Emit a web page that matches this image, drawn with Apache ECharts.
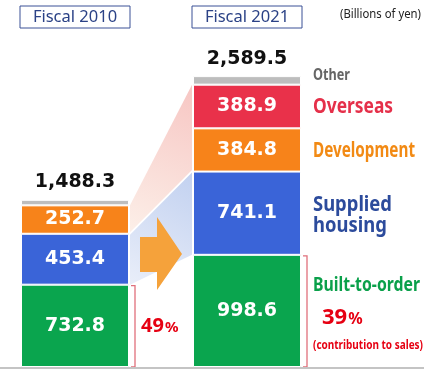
<!DOCTYPE html>
<html><head><meta charset="utf-8">
<script src="https://cdn.jsdelivr.net/npm/echarts@6/dist/echarts.min.js"></script>
<style>html,body{margin:0;padding:0;background:#fff}#c{width:424px;height:392px}</style>
</head><body><div id="c"></div>
<script>
const categories = ['Fiscal 2010', 'Fiscal 2021'];
const builtToOrder = [732.8, 998.6];
const suppliedHousing = [453.4, 741.1];
const development = [252.7, 384.8];
const overseas = ['-', 388.9];
const other = [49.4, 76.1];
const totals = [1488.3, 2589.5];
const builtToOrderShare = ['49', '39'];
const unitText = '(Billions of yen)';

const FONT = 'Noto Sans';
const NUMFONT = 'DejaVu Sans';
const fmtTotal = v => v.toLocaleString('en-US', {minimumFractionDigits: 1, maximumFractionDigits: 1});

const mctx = document.createElement('canvas').getContext('2d');
function fitScale(text, font, targetW) {
  mctx.font = font;
  const w = Math.max(...text.split('\n').map(t => mctx.measureText(t).width));
  return targetW / w;
}

const chart = echarts.init(document.getElementById('c'), null, {renderer: 'canvas'});

const valLabel = {
  show: true, position: 'inside', color: '#fff', fontFamily: NUMFONT,
  fontWeight: 'bold', fontSize: 19
};
const itemBase = {borderColor: '#fff', borderWidth: 1};
function seg(name, data, color) {
  return {
    name, type: 'bar', stack: 'sales', data, barWidth: 108,
    itemStyle: Object.assign({color}, itemBase),
    label: valLabel, emphasis: {disabled: true}
  };
}

chart.setOption({
  animation: false,
  grid: {left: -11, width: 344, top: 30, bottom: 25, outerBoundsMode: 'none', containLabel: false},
  xAxis: {
    type: 'category', data: categories, position: 'top',
    axisLine: {show: false}, axisTick: {show: false},
    axisLabel: {
      margin: 2, fontFamily: FONT, fontSize: 16.5, color: '#2b4286',
      borderColor: '#3b5196', borderWidth: 1, width: 110, height: 20,
      lineHeight: 20, padding: [1, 0, 1, 0], align: 'center'
    }
  },
  yAxis: {type: 'value', min: 0, max: 3000, show: false, splitLine: {show: false}},
  series: [
    seg('Built-to-order', builtToOrder, '#0aa54e'),
    seg('Supplied housing', suppliedHousing, '#3a64d8'),
    seg('Development', development, '#f7831a'),
    seg('Overseas', overseas, '#e9314a'),
    {
      name: 'Other', type: 'bar', stack: 'sales', data: other, barWidth: 108,
      itemStyle: Object.assign({color: '#bdbdbd'}, itemBase),
      emphasis: {disabled: true},
      label: {
        show: true, position: 'top', distance: 8, color: '#111',
        fontFamily: NUMFONT, fontWeight: 'bold', fontSize: 19,
        formatter: p => fmtTotal(totals[p.dataIndex])
      }
    }
  ]
});

function P(i, v) { return chart.convertToPixel({gridIndex: 0}, [i, v]); }
const half = 54;
const cx0 = P(0, 0)[0], cx1 = P(1, 0)[0];
const yB = P(0, 0)[1];
const y = v => P(0, v)[1];
const L = cx0 + half, R = cx1 - half, RE = cx1 + half;
const g0 = builtToOrder[0], s0 = g0 + suppliedHousing[0], d0 = s0 + development[0];
const g1 = builtToOrder[1], s1 = g1 + suppliedHousing[1], d1 = s1 + development[1], o1 = d1 + overseas[1];
const mid = (L + R) / 2;

function sideText(text, yy, size, color, targetW, weight, lh) {
  const w = weight || 'bold';
  const sx = fitScale(text, w + ' ' + size + 'px "' + FONT + '"', targetW);
  return {
    type: 'text', z: 12, x: RE + 12, y: yy, scaleX: sx,
    style: {text, fontFamily: FONT, fontWeight: w, fontSize: size, lineHeight: lh || size * 1.2,
      fill: color, verticalAlign: 'middle'}
  };
}
function pctText(x, yy, num, nSize, pSize) {
  return {
    type: 'text', z: 12, x, y: yy,
    style: {
      text: '{n|' + num + '}{p|%}', verticalAlign: 'middle',
      rich: {
        n: {fontFamily: FONT, fontWeight: 'bold', fontSize: nSize, fill: '#e60012'},
        p: {fontFamily: FONT, fontWeight: 'bold', fontSize: pSize, fill: '#e60012', padding: [4, 0, 0, 1]}
      }
    }
  };
}

const graphic = [
  {
    type: 'polygon', z: -10,
    shape: {points: [[L + 1, y(d0)], [R - 1, y(o1)], [R - 1, y(s1) - 1.5], [L + 1, y(s0) - 1.5]]},
    style: {fill: new echarts.graphic.LinearGradient(1, 0, 0, 1, [
      {offset: 0, color: '#f7c6c3'}, {offset: 1, color: '#fcefe8'}])}
  },
  {
    type: 'polygon', z: -10,
    shape: {points: [[L + 1, y(s0) + 1], [R - 1, y(s1) + 1], [R - 1, y(g1)], [L + 1, y(g0)]]},
    style: {fill: new echarts.graphic.LinearGradient(1, 0, 0, 1, [
      {offset: 0, color: '#c2d1f0'}, {offset: 1, color: '#e9eef9'}])}
  },
  {
    type: 'polygon', z: 10,
    shape: {points: [
      [mid - 21, yB - 130], [mid - 4, yB - 130], [mid - 4, yB - 150], [mid + 21, yB - 113],
      [mid - 4, yB - 77], [mid - 4, yB - 95], [mid - 21, yB - 95]]},
    style: {fill: '#f5a23b'}
  },
  {
    type: 'polyline', z: 10,
    shape: {points: [[L + 2, y(g0) + 1], [L + 6, y(g0) + 1], [L + 6, yB], [L + 2, yB]]},
    style: {stroke: '#e0707c', lineWidth: 1.3, fill: null}
  },
  {
    type: 'polyline', z: 10,
    shape: {points: [[RE + 2, y(g1) + 1], [RE + 6, y(g1) + 1], [RE + 6, yB], [RE + 2, yB]]},
    style: {stroke: '#e0707c', lineWidth: 1.3, fill: null}
  },
  {
    type: 'line', z: 11,
    shape: {x1: 0, y1: yB + 1, x2: 424, y2: yB + 1},
    style: {stroke: '#c4c4c4', lineWidth: 2}
  },
  {
    type: 'text', z: 12, x: 340, y: 15,
    scaleX: fitScale(unitText, 'normal 12px "' + FONT + '"', 81),
    style: {text: unitText, fontFamily: FONT, fontSize: 12, fill: '#222', verticalAlign: 'middle'}
  },
  pctText(L + 12, (y(g0) + yB) / 2, builtToOrderShare[0], 20, 15),
  sideText('Other', y(o1) - 9, 16, '#666', 37),
  sideText('Overseas', (y(o1) + y(d1)) / 2 + 1, 21, '#e5304a', 80),
  sideText('Development', (y(d1) + y(s1)) / 2 + 1, 21, '#f28a14', 102),
  sideText('Supplied\nhousing', (y(s1) + y(g1)) / 2 + 2, 21, '#2c4b9c', 79, 'bold', 21),
  sideText('Built-to-order', y(g1) + 30, 20, '#0aa04a', 107),
  pctText(RE + 21, y(g1) + 63, builtToOrderShare[1], 22, 16),
  sideText('(contribution to sales)', y(g1) + 90, 13, '#e60012', 110)
];
chart.setOption({graphic});
</script>
</body></html>
